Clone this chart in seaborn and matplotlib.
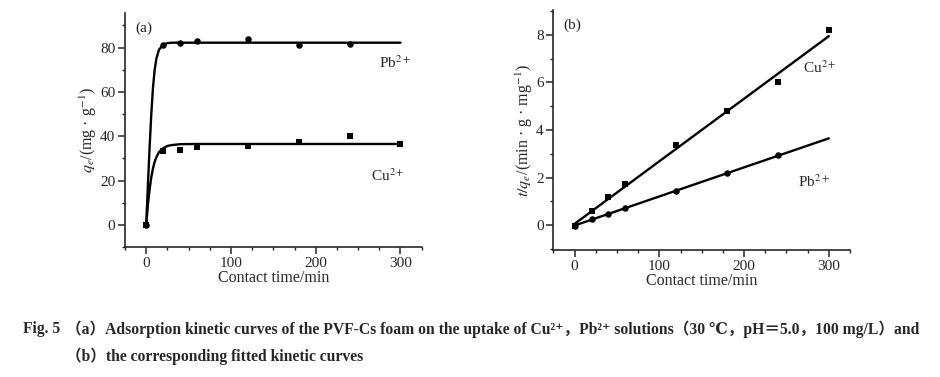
import numpy as np
import pandas as pd
import matplotlib
matplotlib.use("Agg")
import matplotlib.pyplot as plt
from matplotlib.ticker import MultipleLocator
import seaborn as sns

# DATA ===========================================================================================================

# (a) measured uptake q_e (mg/g) vs contact time
time_cu = [0, 20, 40, 60, 120, 180, 240, 300]
qe_cu = [0, 33.5, 34.0, 35.0, 35.5, 37.5, 40.0, 36.5]
time_pb = [0, 20, 40, 60, 120, 180, 240]
qe_pb = [0, 81.0, 82.0, 83.0, 84.0, 81.0, 81.5]

# (a) fitted kinetic curves
fit_time = [0, 2, 4, 6, 8, 10, 12, 15, 20, 25, 30, 40, 60, 300]
fit_cu = [0, 9.0, 16.0, 21.5, 25.5, 28.5, 30.5, 32.8, 34.6, 35.6, 36.0, 36.4, 36.5, 36.5]
fit_pb = [0, 18.0, 35.0, 50.0, 62.0, 70.0, 75.0, 79.0, 81.3, 82.0, 82.2, 82.2, 82.2, 82.2]

# (b) t/q_t (min*g/mg) vs contact time
tq_cu = [-0.05, 0.60, 1.20, 1.72, 3.35, 4.80, 6.00, 8.20]
tq_pb = [-0.02, 0.25, 0.48, 0.72, 1.45, 2.20, 2.93]

# (b) linear fits (end points)
line_time = [0, 300]
line_cu = [0.05, 7.95]
line_pb = [-0.02, 3.65]

caption_head = "Fig. 5"
caption_1 = "\uff08a\uff09Adsorption kinetic curves of the PVF-Cs foam on the uptake of Cu\u00b2\u207a\uff0cPb\u00b2\u207a solutions\uff0830 \u2103\uff0cpH\uff1d5.0\uff0c100 mg/L\uff09and"
caption_2 = "\uff08b\uff09the corresponding fitted kinetic curves"

# STYLE ==========================================================================================================

sns.set_style("ticks")
plt.rcParams["font.family"] = ["Liberation Serif", "DejaVu Serif", "Noto Sans CJK SC"]
plt.rcParams["mathtext.fontset"] = "stix"
plt.rcParams["axes.linewidth"] = 1.2
plt.rcParams["xtick.direction"] = "out"
plt.rcParams["ytick.direction"] = "out"

FS = 11.5
TS = 11
CS = 11.25

fig = plt.figure(figsize=(9.4, 3.77), dpi=100)
ax_a = fig.add_axes([0.133, 0.3448, 0.3156, 0.6207])
ax_b = fig.add_axes([0.5887, 0.3369, 0.3156, 0.6366])

# PANEL (a) ======================================================================================================

sns.lineplot(x=fit_time, y=fit_pb, ax=ax_a, color="black", lw=1.7, sort=False)
sns.lineplot(x=fit_time, y=fit_cu, ax=ax_a, color="black", lw=1.7, sort=False)
sns.scatterplot(x=time_pb, y=qe_pb, ax=ax_a, color="black", marker="o", s=22, linewidth=0, zorder=3)
sns.scatterplot(x=time_cu, y=qe_cu, ax=ax_a, color="black", marker="s", s=22, linewidth=0, zorder=3)

ax_a.set_xlim(-25, 325)
ax_a.set_ylim(-10, 95.6)
ax_a.xaxis.set_major_locator(MultipleLocator(100))
ax_a.xaxis.set_minor_locator(MultipleLocator(25))
ax_a.yaxis.set_major_locator(MultipleLocator(20))
ax_a.yaxis.set_minor_locator(MultipleLocator(10))
ax_a.set_xlabel("Contact time/min", fontsize=FS, labelpad=0)
ax_a.set_ylabel("$q_e$/(mg \u00b7 g$^{-1}$)", fontsize=FS, labelpad=1)
ax_a.text(0.035, 0.92, "(a)", transform=ax_a.transAxes, fontsize=TS)
ax_a.text(275, 71, "Pb$^{2+}$", fontsize=TS)
ax_a.text(265, 20, "Cu$^{2+}$", fontsize=TS)

# PANEL (b) ======================================================================================================

sns.lineplot(x=line_time, y=line_cu, ax=ax_b, color="black", lw=1.7)
sns.lineplot(x=line_time, y=line_pb, ax=ax_b, color="black", lw=1.7)
sns.scatterplot(x=time_cu, y=tq_cu, ax=ax_b, color="black", marker="s", s=22, linewidth=0, zorder=3)
sns.scatterplot(x=time_pb, y=tq_pb, ax=ax_b, color="black", marker="o", s=22, linewidth=0, zorder=3)

ax_b.set_xlim(-25, 325)
ax_b.set_ylim(-1.05, 9.05)
ax_b.xaxis.set_major_locator(MultipleLocator(100))
ax_b.xaxis.set_minor_locator(MultipleLocator(25))
ax_b.yaxis.set_major_locator(MultipleLocator(2))
ax_b.yaxis.set_minor_locator(MultipleLocator(1))
ax_b.set_xlabel("Contact time/min", fontsize=FS, labelpad=0)
ax_b.set_ylabel("$t/q_e$/(min \u00b7 g \u00b7 mg$^{-1}$)", fontsize=FS, labelpad=1)
ax_b.text(0.035, 0.92, "(b)", transform=ax_b.transAxes, fontsize=TS)
ax_b.text(270, 6.4, "Cu$^{2+}$", fontsize=TS)
ax_b.text(264, 1.6, "Pb$^{2+}$", fontsize=TS)

for ax in (ax_a, ax_b):
    sns.despine(ax=ax)
    ax.tick_params(which="major", length=5, width=1.1, labelsize=TS, pad=2)
    ax.tick_params(which="minor", length=2.5, width=1.0)

# CAPTION ========================================================================================================

fig.text(23 / 940, 1 - 329 / 377, caption_head, fontsize=CS, fontweight="bold", va="center", ha="left")
fig.text(66 / 940, 1 - 329 / 377, caption_1, fontsize=CS, fontweight="bold", va="center", ha="left")
fig.text(66 / 940, 1 - 356 / 377, caption_2, fontsize=CS, fontweight="bold", va="center", ha="left")

plt.savefig("out.png", dpi=100)
